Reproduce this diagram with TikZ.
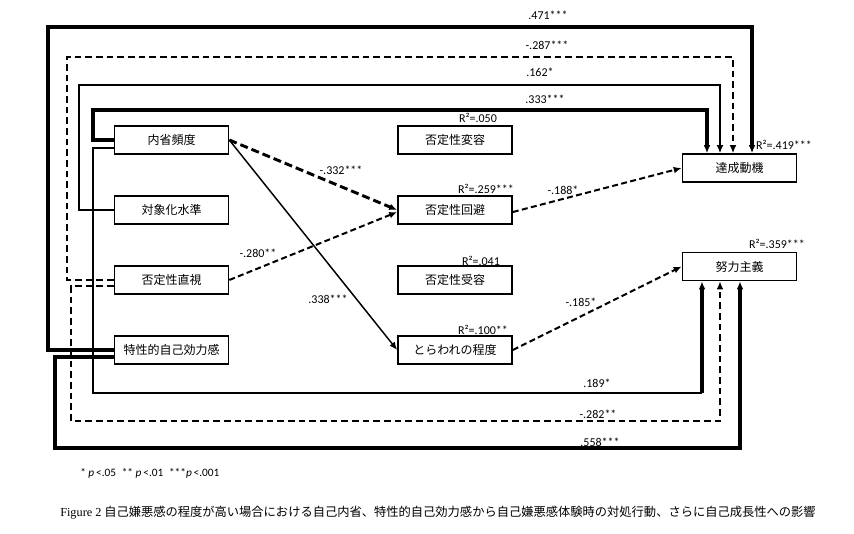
\documentclass[tikz,border=0pt]{standalone}
\usepackage{fontspec}
\setmainfont{Carlito}
\newfontfamily\jp{Noto Sans CJK JP}
\newfontfamily\capserif{Liberation Serif}
\usetikzlibrary{arrows.meta,calc}
\begin{document}
\begin{tikzpicture}[x=0.75pt,y=-0.75pt,
  box/.style={draw,line width=1.2pt,minimum width=85.5pt,minimum height=21pt,inner sep=0pt,font=\jp\fontsize{9}{10}\selectfont},
  lbl/.style={inner sep=0pt,font=\fontsize{9}{10}\selectfont},
  tip/.style={-{Latex[length=6pt,width=5pt]}},
  thickln/.style={line width=2.3pt},
  thinln/.style={line width=1pt},
  loopdash/.style={line width=1.1pt,dash pattern=on 5pt off 3pt},
  bigdash/.style={line width=2.2pt,dash pattern=on 6pt off 3pt},
  middash/.style={line width=1.5pt,dash pattern=on 4.5pt off 2.5pt},
  midsolid/.style={line width=1.1pt}
]
\useasboundingbox (0,0) rectangle (854,533);

% left boxes
\node[box] (naisei)   at (171.5,140) {内省頻度};
\node[box] (taisho)   at (171.5,210) {対象化水準};
\node[box] (chokushi) at (171.5,280) {否定性直視};
\node[box] (tokusei)  at (171.5,350) {特性的自己効力感};
% middle boxes
\node[box] (henyo)    at (455,140) {否定性変容};
\node[box] (kaihi)    at (455,210) {否定性回避};
\node[box] (juyo)     at (455,280) {否定性受容};
\node[box] (toraware) at (455,350) {とらわれの程度};
% right boxes
\node[box] (tassei)   at (739.5,168) {達成動機};
\node[box] (doryoku)  at (739.5,266.5) {努力主義};

% top loops to tassei
\draw[thickln,tip] (tokusei.west) -| (48,27) -| ($(tassei.north)+(12.5,0)$);
\draw[loopdash,tip] (chokushi.west) -| (67,57) -| ($(tassei.north)+(-6.5,0)$);
\draw[thinln,tip] (taisho.west) -| (79,85) -| ($(tassei.north)+(-19.5,0)$);
\draw[thickln,tip] (naisei.west) -| (93,110) -| ($(tassei.north)+(-32.5,0)$);

% bottom loops to doryoku
\coordinate (c189) at (702,393);
\draw[thinln] ($(naisei.west)+(0,8)$) -| (93,393) -- (c189);
\draw[thickln,tip] (c189) -- (c189 |- doryoku.south);
\draw[loopdash,tip] ($(chokushi.west)+(0,6)$) -| (71,421) -| ($(doryoku.south)+(-19.5,0)$);
\draw[thickln,tip] ($(tokusei.west)+(0,7)$) -| (55,448) -| ($(doryoku.south)+(0.5,0)$);

% middle paths
\draw[bigdash,tip] (naisei.east) -- (kaihi.west);
\draw[midsolid,tip] (naisei.east) -- (toraware.west);
\draw[middash,tip] (chokushi.east) -- ($(kaihi.west)+(0,2)$);
\draw[middash,tip] ($(kaihi.east)+(0,2)$) -- (tassei.west);
\draw[middash,tip] (toraware.east) -- (doryoku.west);

% path labels
\node[lbl] (l471) at (548,15) {.471***};
\node[lbl] (l287) at (547,45) {-.287***};
\node[lbl] (l162) at (540,72) {.162*};
\node[lbl] (l333) at (545,99) {.333***};
\node[lbl] (l332) at (341,170) {-.332***};
\node[lbl] (l280) at (258,253) {-.280**};
\node[lbl] (l338) at (328,299) {.338***};
\node[lbl] (l188) at (563,190) {-.188*};
\node[lbl] (l185) at (581,302) {-.185*};
\node[lbl] (l189) at (597,383) {.189*};
\node[lbl] (l282) at (598,414) {-.282**};
\node[lbl] (l558) at (600,442) {.558***};
% R2 labels
\node[lbl] (r050) at (478,118) {R²=.050};
\node[lbl] (r259) at (486,189) {R²=.259***};
\node[lbl] (r041) at (481,261) {R²=.041};
\node[lbl] (r100) at (483,330) {R²=.100**};
\node[lbl] (r419) at (784,145) {R²=.419***};
\node[lbl] (r359) at (777,244) {R²=.359***};

% footnote and caption
\node[lbl,anchor=west,font=\fontsize{8.5}{10}\selectfont] (fn) at (80,473) {* \textit{p}\,<.05\enspace ** \textit{p}\,<.01\enspace ***\textit{p}\,<.001};
\node[anchor=west,inner sep=0pt,font=\fontsize{9.2}{11}\selectfont] (cap) at (60,513) {{\capserif Figure 2} {\jp 自己嫌悪感の程度が高い場合における自己内省、特性的自己効力感から自己嫌悪感体験時の対処行動、さらに自己成長性への影響}};
\end{tikzpicture}
\end{document}
